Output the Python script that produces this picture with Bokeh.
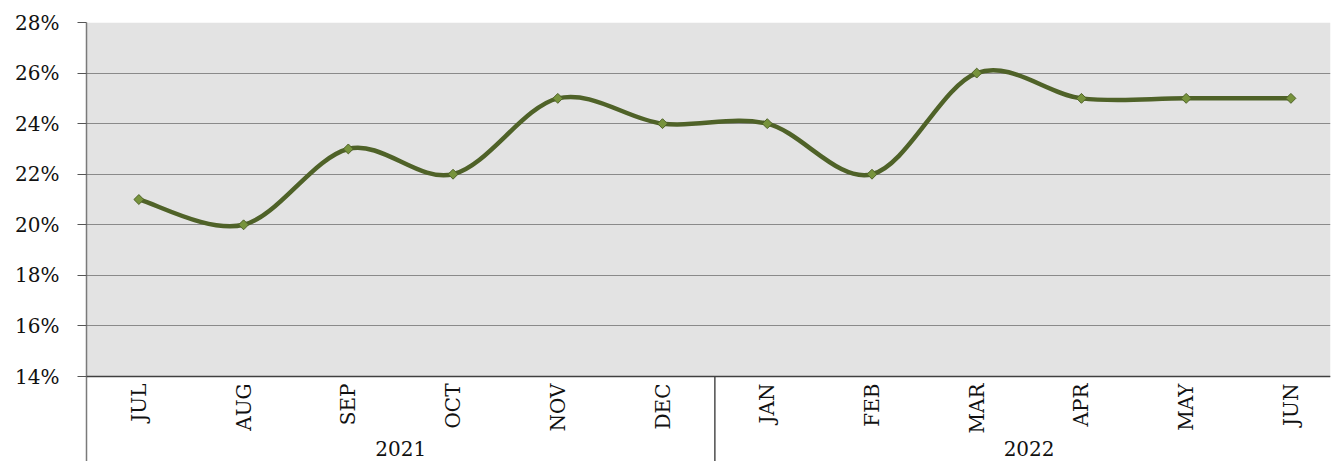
from math import pi
from bokeh.plotting import figure
from bokeh.models import Range1d, FixedTicker, PrintfTickFormatter, BoxAnnotation, ColumnDataSource, Span
from bokeh.core.properties import value
from bokeh.embed import file_html
from bokeh.resources import INLINE

months = ["JUL", "AUG", "SEP", "OCT", "NOV", "DEC", "JAN", "FEB", "MAR", "APR", "MAY", "JUN"]
years = ["2021", "2022"]
year_of_month = [0, 0, 0, 0, 0, 0, 1, 1, 1, 1, 1, 1]
share = [21, 20, 23, 22, 25, 24, 24, 22, 26, 25, 25, 25]
y_ticks = [14, 16, 18, 20, 22, 24, 26, 28]

FONT = "DejaVu Serif"
LINE = "#4f6228"
MARK = "#77933c"

xs = list(range(len(months)))
y_lo = 10.64
p = figure(width=1332, height=461, output_backend="svg", toolbar_location=None,
           x_range=Range1d(-0.5, 11.378), y_range=Range1d(y_lo, 28),
           x_axis_location=None, min_border_left=86, min_border_top=22,
           min_border_right=2, min_border_bottom=0)
p.outline_line_color = None
p.background_fill_color = "white"
p.border_fill_color = "white"

# gray plot area
box = BoxAnnotation(bottom=min(y_ticks), top=max(y_ticks), fill_color="#e3e3e3", fill_alpha=1,
                    line_color=None, level="image")
p.add_layout(box)

p.xgrid.visible = False
p.ygrid.ticker = FixedTicker(ticks=y_ticks)
p.ygrid.grid_line_color = "#8a8a8a"
p.ygrid.grid_line_width = 1

yax = p.yaxis[0]
yax.ticker = FixedTicker(ticks=y_ticks)
yax.formatter = PrintfTickFormatter(format="%d%%")
yax.major_label_text_font = FONT
yax.major_label_text_font_size = "20px"
yax.major_label_text_color = "#111111"
yax.major_tick_out = 9
yax.major_tick_in = 0
yax.minor_tick_out = 0
yax.minor_tick_in = 0
yax.major_label_standoff = 18
yax.axis_line_color = "#7a7a7a"
yax.axis_line_width = 1.5
yax.major_tick_line_color = "#555555"

# bottom axis line at 14%
p.add_layout(Span(location=min(y_ticks), dimension="width", line_color="#404040", line_width=1.5))

# year separator
sep_x = [i - 0.5 for i in range(1, len(months)) if year_of_month[i] != year_of_month[i - 1]]
p.segment(x0=sep_x, y0=[min(y_ticks)] * len(sep_x), x1=sep_x, y1=[y_lo] * len(sep_x),
          line_color="#222222", line_width=1.2)

# month labels
p.text(x=xs, y=[min(y_ticks)] * len(xs), text=months, angle=pi / 2,
       text_align="right", text_baseline="middle", y_offset=7,
       text_font=value(FONT), text_font_size="20px", text_color="#111111")

# year labels
yx = []
for k in range(len(years)):
    idx = [i for i in xs if year_of_month[i] == k]
    yx.append((idx[0] + idx[-1]) / 2)
p.text(x=yx, y=[y_lo] * len(years), text=years, text_align="center", text_baseline="bottom",
       y_offset=-6, text_font=value(FONT), text_font_size="20px", text_color="#111111")

# smoothed line (Catmull-Rom -> Bezier)
n = len(share)
x0, y0, x1, y1, cx0, cy0, cx1, cy1 = [], [], [], [], [], [], [], []
for i in range(n - 1):
    a = max(i - 1, 0)
    d = min(i + 2, n - 1)
    x0.append(xs[i]); y0.append(share[i])
    x1.append(xs[i + 1]); y1.append(share[i + 1])
    cx0.append(xs[i] + (xs[i + 1] - xs[a]) / 6)
    cy0.append(share[i] + (share[i + 1] - share[a]) / 6)
    cx1.append(xs[i + 1] - (xs[d] - xs[i]) / 6)
    cy1.append(share[i + 1] - (share[d] - share[i]) / 6)
src = ColumnDataSource(dict(x0=x0, y0=y0, x1=x1, y1=y1, cx0=cx0, cy0=cy0, cx1=cx1, cy1=cy1))
p.bezier(x0="x0", y0="y0", x1="x1", y1="y1", cx0="cx0", cy0="cy0", cx1="cx1", cy1="cy1",
         source=src, line_color=LINE, line_width=4.5, line_cap="round")

p.scatter(x=xs, y=share, marker="square", angle=pi / 4, size=7,
          fill_color=MARK, line_color=LINE, line_width=1)

open("out.html", "w").write(file_html(p, INLINE))
